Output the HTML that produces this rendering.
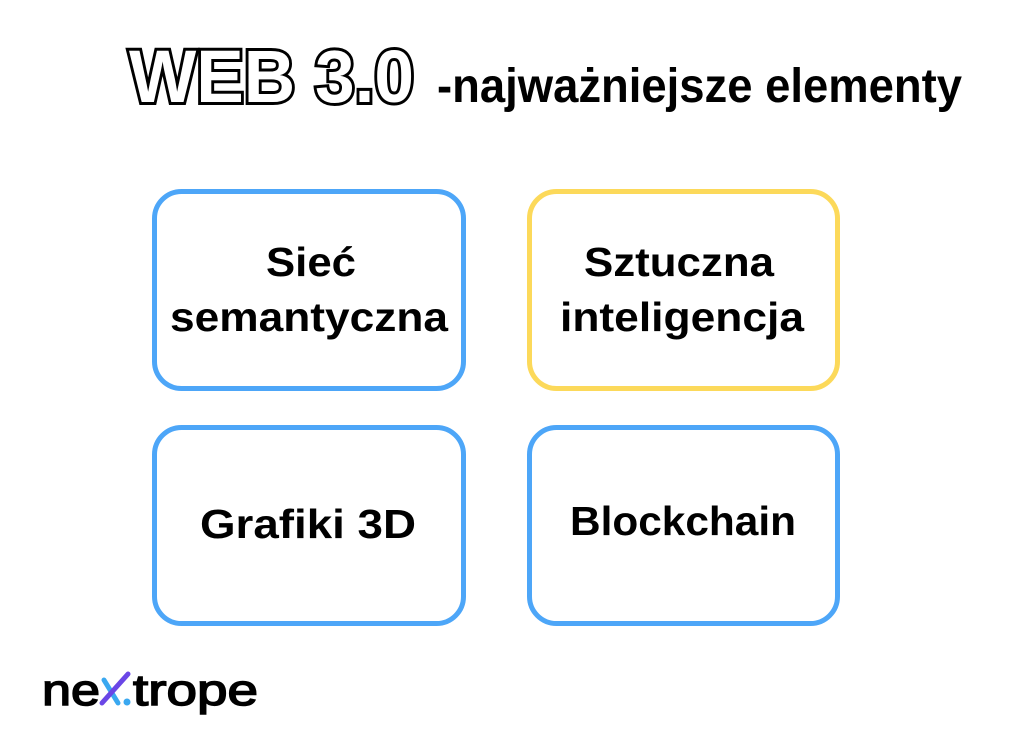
<!DOCTYPE html>
<html><head><meta charset="utf-8"><style>
html,body{margin:0;padding:0;background:#fff;}
svg{display:block}
</style></head><body>
<svg width="1024" height="731" viewBox="0 0 1024 731" xmlns="http://www.w3.org/2000/svg" font-family="Liberation Sans, sans-serif">
<rect width="1024" height="731" fill="#fff"/>
<text x="129" y="102" font-size="74" font-weight="bold" fill="#fff" stroke="#000" stroke-width="6" paint-order="stroke" textLength="285" lengthAdjust="spacingAndGlyphs">WEB 3.0</text>
<text x="437" y="102" font-size="48" font-weight="bold" fill="#000" textLength="525" lengthAdjust="spacingAndGlyphs">-najważniejsze elementy</text>

<rect x="154.5" y="191.5" width="309" height="197" rx="27" fill="none" stroke="#4da6f8" stroke-width="5"/>
<rect x="529.5" y="191.5" width="308" height="197" rx="27" fill="none" stroke="#fcd95a" stroke-width="5"/>
<rect x="154.5" y="427.5" width="309" height="196" rx="27" fill="none" stroke="#4da6f8" stroke-width="5"/>
<rect x="529.5" y="427.5" width="308" height="196" rx="27" fill="none" stroke="#4da6f8" stroke-width="5"/>

<g font-size="41" font-weight="bold" fill="#000" text-anchor="middle">
<text x="311" y="276" textLength="90" lengthAdjust="spacingAndGlyphs">Sieć</text>
<text x="309" y="331" textLength="278" lengthAdjust="spacingAndGlyphs">semantyczna</text>
<text x="679" y="276" textLength="190" lengthAdjust="spacingAndGlyphs">Sztuczna</text>
<text x="682" y="331" textLength="244" lengthAdjust="spacingAndGlyphs">inteligencja</text>
<text x="308" y="538" textLength="216" lengthAdjust="spacingAndGlyphs">Grafiki 3D</text>
<text x="683" y="535" textLength="226" lengthAdjust="spacingAndGlyphs">Blockchain</text>
</g>

<g fill="#000" stroke="#000" stroke-width="1.5" font-size="44">
<text x="42" y="705" textLength="58" lengthAdjust="spacingAndGlyphs">ne</text>
<text x="133" y="705" textLength="125" lengthAdjust="spacingAndGlyphs">trope</text>
</g>
<line x1="104" y1="680" x2="118" y2="703" stroke="#3aa8f0" stroke-width="5" stroke-linecap="round"/>
<line x1="128" y1="674" x2="102" y2="703" stroke="#6a46e6" stroke-width="5" stroke-linecap="round"/>
<circle cx="127" cy="702" r="3.5" fill="#3aa8f0"/>
</svg>
</body></html>
